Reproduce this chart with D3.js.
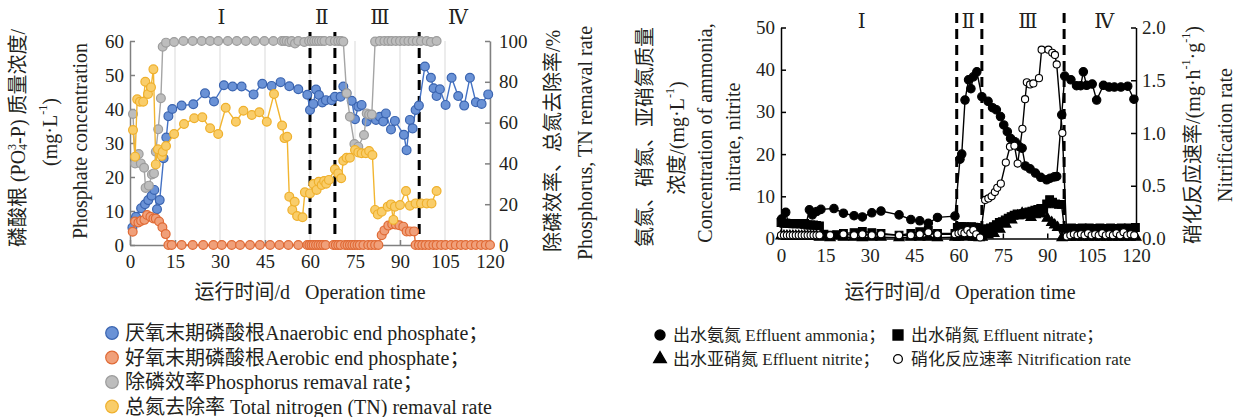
<!DOCTYPE html>
<html>
<head>
<meta charset="utf-8">
<script src="https://cdn.jsdelivr.net/npm/d3@7"></script>
<style>
body { margin: 0; background: #fff; }
svg text { font-family: "Liberation Serif", "Noto Sans CJK SC", serif; font-size: 20px; fill: #231f20; }
svg .tick text { font-size: 19px; }
svg .legR text { font-size: 17px; }
</style>
</head>
<body>
<svg id="chart" width="1236" height="417"></svg>
<script>
// ---- left chart: phosphate ----
const xTicks = [0, 15, 30, 45, 60, 75, 90, 105, 120];
const phosTicks = [0, 10, 20, 30, 40, 50, 60];
const rateTicks = [0, 20, 40, 60, 80, 100];

const blueDays = [0.8,2,3.7,5,6.1,7.2,8.1,9,9.9,11.2,12.1,12.8,14.1,17.2,21.1,25,28,31.3,34.2,37.2,
    41.2,44.1,47.2,50.2,53.1,56.1,59.1,60,61.1,62,63,64.1,65.3,67.2,68.3,70.2,71.1,72.2,73.9,75,
    76.1,77.2,78.9,80.6,82,83.3,84.4,85.3,87,88.3,91.3,92.2,93.3,94.2,95.2,96.3,98.3,100.3,101.2,102.2,
    103.3,105.2,107.2,109.4,111.4,113.3,115.3,117.2,119.4];
const blueVals = [5.1,8.3,10.8,12,13.2,14.5,16.2,10.5,13.2,25.5,31.6,37.9,40,41,41.4,44.6,42.2,47,46.6,46.6,
    44.3,47.4,46.8,47.9,46.7,45.8,44.2,39.7,41.5,45.7,44.1,41.9,42.6,42.6,43.6,43.6,46.6,44.6,42.4,37,
    40.7,41.2,36.3,37.7,36.8,37.7,36.3,38.7,34,36.5,32.4,27.9,36.8,34.3,39.7,41,52.5,49.2,46.1,43.8,
    45.8,41.2,49.2,43.8,41,49.2,42,41.5,44.3];

const redDays = [0.9,1.7,2.8,3.7,4.8,5.7,6.8,7.8,8.6,9.7,10.8,11.9,12.8,13.9,17.2,20.9,24.4,27.8,30.6,33.9,
    36.7,40,43.3,46.7,49.8,52.8,56.1,59.1,59.8,60.5,61.2,62,62.8,63.6,64.4,65.2,67.8,68.6,69.4,70.2,
    71.7,72.5,73.3,74.1,74.9,75.8,76.6,77.8,79.4,80.5,81.7,82.8,83.9,84.8,86.1,87.4,88.6,89.8,91.1,92.2,
    93.3,94.7,95.2,96.3,97.4,98.5,99.7,101.1,102.2,103.7,105.2,107,108.6,110.3,111.9,113.7,115.3,117,118.6,120];
const redVals = [3.9,6.9,6.6,7.1,7.4,8.8,8.3,7.8,7.8,6.9,5.2,3.2,0,0,0,0,0,0,0,0,
    0,0,0,0,0,0,0,0,0,0,0,0,0,0,0,0,0,0,0,0,
    0,0,0,0,0,0,0,0,0,0,0,0,2.9,4.3,5.7,6.1,6,5.8,5.4,4,
    4,4,0,0,0,0,0,0,0,0,0,0,0,0,0,0,0,0,0,0];

const grayDays = [1,1.7,2.9,3.6,4.7,5.2,6.3,7.3,8,8.6,9.4,10.3,10.9,12,14.7,17.8,20.9,23.9,26.7,29.4,
    32.6,35.6,38.6,41.7,44.8,47.8,50.6,51.4,52.2,53.1,53.9,55,56.1,58.1,59.7,60.6,61.4,62.2,63,63.9,
    64.8,66.7,68.3,69.4,70.3,71.1,72.2,73.3,74.8,76.1,78,78.9,79.7,80.6,81.7,83.3,84.8,86.1,87.2,88.6,
    90,91.4,92.8,94.2,95.6,97,98.9,100.3,102.2];
const grayVals = [64.2,40,44.6,40,37.9,28,29.1,34.6,35.1,45.7,56.7,71.9,97.2,99.2,99.5,100,100,100,100,100,
    100,100,100,100,100,100,100,100,100,99.5,100,98.8,100,99.5,100,100,100,100,100,100,
    100,100,100,100,100,99.7,74.4,62.9,49.5,48.2,53.9,64.5,64,64,99.7,100,100,100,100,100,
    100,100,100,100,100,100,100,99.5,100];

const yellowDays = [1,1.7,2.4,3.3,4.4,5.1,6,7,7.8,8.6,9.3,10.6,10.9,12,14.7,18,21.4,24.1,26.7,29.4,
    31.9,35.3,37.8,40.6,43.1,45.6,48,50.7,51.5,52.4,53.1,54.1,54.9,55.7,57.5,58.3,60,61.1,62.2,62.9,
    63.9,64.7,65.4,66.3,68.3,69.4,70.4,71.1,72.2,73.3,75,76.1,77.2,78.6,79.7,80.8,81.7,82.6,83.9,85.9,
    87,87.8,88.3,90,92,93.3,95.2,97,98.9,100.5,102.2];
const yellowVals = [56.4,43.3,71.4,70.2,70.2,80,74,77.3,86.1,39.5,46.9,43.6,45.7,48.5,54.4,59.3,62.1,62.6,57.2,54.4,
    67.3,60.4,65.8,63.7,65.1,60.4,74,58.6,52.4,53.1,23.7,17.2,21.2,14.2,13.6,25.8,25.3,29.9,27,31,
    29.4,31.4,30,31.9,37.1,35.1,32.7,41.3,42.8,42.8,46.6,45.4,45,45,46.1,44.1,17.2,15,16.3,18.8,
    19.9,12.3,18.8,19.6,26.5,19.3,20.4,20.4,20.4,20.4,26.5];

// stage borders and labels (days)
const stageLinesL = [60, 68.3, 96.4];
const stageLinesR = [59.4, 67.9, 95.7];
const stageNames = ["Ⅰ", "Ⅱ", "Ⅲ", "Ⅳ"];
const stagePosL = [30.5, 63.9, 83.3, 109.3];
const stagePosR = [27.3, 63.3, 83.5, 109.3];

// ---- right chart: nitrogen ----
const nTicks = [0, 10, 20, 30, 40, 50];
const nrTicks = [0, 0.5, 1, 1.5, 2];

const ammDays = [0.2,1.6,2.5,4,5.5,7,8.5,9.6,10.6,12.1,13.5,17.9,21.1,24.7,27.5,30.7,33.8,39.9,43.9,46.9,
    49.8,52.9,58.8,60.5,61.1,62.2,63.4,64.2,65,66.2,67.9,70,71.5,72.8,74.2,75.3,76.5,77.6,79.2,80.5,
    81.5,82.6,84.2,86,87.8,89.8,91,92.4,93.2,94.9,95.9,98,99.9,101.3,102.2,103.3,105.2,106.7,109,110.9,
    112.7,114.9,117.2,119.3];
const ammVals = [4.6,6.2,3.6,3.5,3.5,3.4,3.5,6.8,5.6,6.4,6.9,7.1,6,5.4,5.1,6.1,6.5,5.6,4.5,4.2,
    3.6,5,5.3,18.8,20,32.8,37.6,35.5,38.3,39.5,33.6,32.5,31,30.5,28.9,26.9,25.3,23.7,22.9,21.8,
    21.4,17.2,16.5,15.5,14.5,13.9,14.3,14.6,14.7,29.3,38.5,37.6,36.2,36.2,39.5,36.3,36.6,32.8,36.3,35.9,
    35.9,35.9,36.1,33];

const nitDays = [0,1,2,3,4,5,6,7,8,9,10,11,12,13,14.5,16.6,18.8,21.1,24.7,27.5,
    30.7,33.8,39.9,43.9,46.9,49.8,52.9,58.8,59.6,60.4,61.2,62,62.8,63.6,64.4,65.2,66,66.8,67.8,68.8,
    69.8,70.8,71.8,72.8,73.8,74.8,75.8,76.8,77.8,78.8,79.8,80.8,81.8,82.8,83.8,84.8,85.8,86.8,87.8,88.8,
    89.8,90.8,91.8,92.8,93.8,94.8,95.8,97,98.2,99.4,100.6,101.8,103,104.2,105.4,106.6,107.8,109,110.2,111.4,
    112.6,113.8,115,116.2,117.4,118.6,119.8];
const nitVals = [3.8,3.6,3.6,3.6,3.5,3.6,3.5,3.5,3.6,3.2,3.2,3.2,3.1,3,1,0.8,0.9,1.2,1.4,1.7,
    1.4,1.2,0.8,1.2,1.6,1.9,1.2,1.2,2.6,2.8,2.8,2.8,2.7,2.6,2.8,2.7,2.6,2.4,1.9,2,
    2.3,2.5,2.8,3.3,3.8,4,4.4,4.8,5.2,5.5,5.8,5.6,5.9,6.1,6.3,6.5,6.7,6.9,7.1,6.8,
    8.2,9.2,8.6,8.2,8.1,8.1,2.4,2.4,2.5,2.4,2.3,2.5,2.4,2.5,2.3,2.4,2.5,2.4,2.4,2.5,
    2.3,2.4,2.5,2.4,2.5,2.4,2.6];

const niDays = [0,1,2,3,4,5,6,7,8,9,10,11,12,13,16.6,21.1,24.7,27.5,30.7,33.8,
    39.9,43.9,46.9,49.8,52.9,58.8,60,61,62,63,64,65,66,67,68,70,72,74,76,78,
    80,81.5,83,84.5,86,88,90,91.5,92.5,93.5,95,96.5,98,100,102,104,106,108,110,112,
    114,116,118,120];
const niVals = [0.6,0.6,0.6,0.6,0.6,0.6,0.6,0.6,0.6,0.6,0.6,0.6,0.6,0.3,0.2,0.3,0.3,0.2,0.3,0.3,
    0.2,0.3,0.3,0.3,0.2,0.3,0.3,0.4,0.4,0.4,0.4,0.3,0.3,0.2,0.3,0.8,1.2,2.2,3.4,4.4,
    5.4,6,5.5,5,5.6,5.8,4.8,3.8,3.2,2.6,0.2,0.3,0.3,0.3,0.3,0.3,0.3,0.3,0.3,0.3,
    0.3,0.3,0.3,0.3];

const nrDays = [0,1,2,3,4,5,6,7,8,9,10,11,12,13,16.6,21.1,24.7,27.5,30.7,33.8,
    39.9,43.9,46.9,49.8,52.9,58.8,60,61,62,63,64,65,66,67.3,69,70.1,71.2,72.3,73.1,74.3,
    76,77.4,78.9,80,81.6,82.5,83.1,84.2,85.3,87.2,88.1,90.4,91.7,92.6,93.2,95.1,96.6,97.8,99,100.2,
    101.4,102.6,103.8,105,106.2,107.4,108.6,109.8,111,112.2,113.4,114.6,115.8,117,118.2,119.4];
const nrVals = [0.03,0.03,0.03,0.03,0.03,0.03,0.03,0.03,0.03,0.03,0.03,0.03,0.03,0.03,0.03,0.04,0.03,0.04,0.03,0.04,
    0.03,0.03,0.04,0.06,0.04,0.04,0.05,0.06,0.05,0.08,0.05,0.08,0.04,0.01,0.365,0.38,0.40,0.44,0.48,0.52,
    0.72,0.87,0.88,0.71,1.04,1.32,1.48,1.46,1.47,1.52,1.79,1.79,1.76,1.74,1.65,1.0,0.02,0.03,0.04,0.03,
    0.04,0.03,0.05,0.03,0.04,0.03,0.05,0.03,0.04,0.03,0.05,0.03,0.06,0.03,0.04,0.03];

const svg = d3.select("#chart");

// scales
const xL = d3.scaleLinear().domain([0, 120]).range([130, 490]);
const yL = d3.scaleLinear().domain([0, 60]).range([245, 41]);
const yL2 = d3.scaleLinear().domain([0, 100]).range([245, 41]);
const xR = d3.scaleLinear().domain([0, 120]).range([781, 1136]);
const yR = d3.scaleLinear().domain([0, 50]).range([238.5, 27.5]);
const yR2 = d3.scaleLinear().domain([0, 2]).range([238.5, 27.5]);

// gridlines (left chart only)
svg.append("g").selectAll("line")
    .data(xTicks.slice(1))
    .enter().append("line")
    .attr("x1", d => xL(d)).attr("x2", d => xL(d))
    .attr("y1", yL(0)).attr("y2", yL(60))
    .attr("stroke", "#d9d9d9").attr("stroke-width", 1);

function styleAxis(g, color) {
    g.selectAll("path, line").attr("stroke", color).attr("stroke-width", 1.5);
    g.selectAll("text").attr("fill", "#231f20");
}

// left chart axes
svg.append("g").attr("transform", "translate(0," + yL(0) + ")")
    .call(d3.axisBottom(xL).tickValues(xTicks).tickSize(-5).tickSizeOuter(0).tickPadding(10))
    .call(g => styleAxis(g, "#808080"));
svg.append("g").attr("transform", "translate(" + xL(0) + ",0)")
    .call(d3.axisLeft(yL).tickValues(phosTicks).tickSize(-5).tickSizeOuter(0).tickPadding(6))
    .call(g => styleAxis(g, "#808080"));
svg.append("g").attr("transform", "translate(" + xL(120) + ",0)")
    .call(d3.axisRight(yL2).tickValues(rateTicks).tickSize(-5).tickSizeOuter(0).tickPadding(9))
    .call(g => styleAxis(g, "#808080"));

// right chart axes
svg.append("g").attr("transform", "translate(0," + yR(0) + ")")
    .call(d3.axisBottom(xR).tickValues(xTicks).tickSize(-5).tickSizeOuter(0).tickPadding(10))
    .call(g => styleAxis(g, "#000"));
svg.append("g").attr("transform", "translate(" + xR(0) + ",0)")
    .call(d3.axisLeft(yR).tickValues(nTicks).tickSize(-5).tickSizeOuter(0).tickPadding(6))
    .call(g => styleAxis(g, "#000"));
svg.append("g").attr("transform", "translate(" + xR(120) + ",0)")
    .call(d3.axisRight(yR2).tickValues(nrTicks).tickSize(-5).tickSizeOuter(0).tickPadding(6)
        .tickFormat(d3.format(".1f")))
    .call(g => styleAxis(g, "#000"));

// stage dashed lines
svg.append("g").selectAll("line")
    .data(stageLinesL)
    .enter().append("line")
    .attr("x1", d => xL(d)).attr("x2", d => xL(d))
    .attr("y1", 32).attr("y2", yL(0))
    .attr("stroke", "#000").attr("stroke-width", 3).attr("stroke-dasharray", "10,6");
svg.append("g").selectAll("line")
    .data(stageLinesR)
    .enter().append("line")
    .attr("x1", d => xR(d)).attr("x2", d => xR(d))
    .attr("y1", 13).attr("y2", yR(0))
    .attr("stroke", "#000").attr("stroke-width", 3).attr("stroke-dasharray", "10,6");

svg.append("g").selectAll("text")
    .data(stageNames)
    .enter().append("text")
    .attr("x", (d, i) => xL(stagePosL[i])).attr("y", 24)
    .attr("text-anchor", "middle")
    .style("font-family", "'Liberation Serif','DejaVu Serif',serif")
    .text(d => d);
svg.append("g").selectAll("text")
    .data(stageNames)
    .enter().append("text")
    .attr("x", (d, i) => xR(stagePosR[i])).attr("y", 28)
    .attr("text-anchor", "middle")
    .style("font-family", "'Liberation Serif','DejaVu Serif',serif")
    .text(d => d);

// left chart series
function phosSeries(days, vals, y, line, fill, stroke) {
    const pts = d3.zip(days, vals);
    const g = svg.append("g");
    g.append("path")
        .datum(pts)
        .attr("fill", "none").attr("stroke", line).attr("stroke-width", 1.4)
        .attr("d", d3.line().x(d => xL(d[0])).y(d => y(d[1])));
    g.selectAll("circle")
        .data(pts)
        .enter().append("circle")
        .attr("cx", d => xL(d[0])).attr("cy", d => y(d[1]))
        .attr("r", 4.4)
        .attr("fill", fill).attr("stroke", stroke).attr("stroke-width", 1.2);
}

phosSeries(blueDays, blueVals, yL, "#4472c4", "#6a92d6", "#3a64b0");
phosSeries(redDays, redVals, yL, "#e46c35", "#f0a07a", "#e06a35");
phosSeries(grayDays, grayVals, yL2, "#a5a5a5", "#bdbdbd", "#9c9c9c");
phosSeries(yellowDays, yellowVals, yL2, "#f2b530", "#f9cd6a", "#efb02c");

// right chart series
function nSeries(days, vals, y, shape, size, fill) {
    const pts = d3.zip(days, vals);
    const g = svg.append("g");
    g.append("path")
        .datum(pts)
        .attr("fill", "none").attr("stroke", "#000").attr("stroke-width", 1.4)
        .attr("d", d3.line().x(d => xR(d[0])).y(d => y(d[1])));
    g.selectAll("path.mark")
        .data(pts)
        .enter().append("path")
        .attr("class", "mark")
        .attr("transform", d => "translate(" + xR(d[0]) + "," + y(d[1]) + ")")
        .attr("d", d3.symbol().type(shape).size(size))
        .attr("fill", fill).attr("stroke", "#000").attr("stroke-width", 1.1);
}

nSeries(nitDays, nitVals, yR, d3.symbolSquare, 60, "#000");
nSeries(niDays, niVals, yR, d3.symbolTriangle, 45, "#000");
nSeries(ammDays, ammVals, yR, d3.symbolCircle, 56, "#000");
nSeries(nrDays, nrVals, yR2, d3.symbolCircle, 40, "#fff");

// axis titles
function vtext(x, y, parts) {
    const t = svg.append("text")
        .attr("transform", "translate(" + x + "," + y + ") rotate(-90)")
        .attr("text-anchor", "middle")
        .attr("dominant-baseline", "central");
    parts.forEach(p => {
        const s = t.append("tspan").text(p[0]);
        if (p[1]) s.attr("dy", p[1]);
        if (p[2]) s.style("font-size", p[2] + "px");
        if (p[3]) s.attr("dx", p[3]);
    });
}

vtext(18, 138, [["磷酸根 (PO"], ["4", 5, 12], ["3", -11, 12, -6], ["-P) 质量浓度/", 6]]);
vtext(50, 132, [["(mg·L"], ["-1", -7, 12], [")", 7]]);
vtext(80, 141, [["Phosphate concentration"]]);
vtext(553, 141, [["除磷效率、总氮去除率/%"]]);
vtext(585, 143, [["Phosphorus, TN remaval rate"]]);

vtext(645, 137, [["氨氮、硝氮、亚硝氮质量"]]);
vtext(677, 138, [["浓度/(mg·L"], ["-1", -7, 12], [")", 7]]);
vtext(705, 133, [["Concentration of ammonia,"]]);
vtext(733, 137, [["nitrate, nitrite"]]);
vtext(1193, 135, [["硝化反应速率/(mg·h"], ["-1", -7, 12], ["·g", 7], ["-1", -7, 12], [")", 7]]);
vtext(1225, 135, [["Nitrification rate"]]);

svg.append("text").attr("x", 310).attr("y", 299).attr("text-anchor", "middle")
    .attr("xml:space", "preserve").text("运行时间/d   Operation time");
svg.append("text").attr("x", 960).attr("y", 299).attr("text-anchor", "middle")
    .attr("xml:space", "preserve").text("运行时间/d   Operation time");

// legends
const legendL = [
    ["厌氧末期磷酸根Anaerobic end phosphate；", "#6a92d6", "#3a64b0"],
    ["好氧末期磷酸根Aerobic end phosphate；", "#f0a07a", "#e06a35"],
    ["除磷效率Phosphorus remaval rate；", "#bdbdbd", "#9c9c9c"],
    ["总氮去除率 Total nitrogen (TN) remaval rate", "#f9cd6a", "#efb02c"]
];
const lg = svg.append("g").selectAll("g")
    .data(legendL)
    .enter().append("g")
    .attr("transform", (d, i) => "translate(112," + (333 + i * 24.5) + ")");
lg.append("circle").attr("r", 6.3)
    .attr("fill", d => d[1]).attr("stroke", d => d[2]).attr("stroke-width", 1.2);
lg.append("text").attr("x", 13).attr("y", 7).text(d => d[0]);

const legendR = [
    ["出水氨氮 Effluent ammonia；", d3.symbolCircle, 80, "#000", 660, 335],
    ["出水硝氮 Effluent nitrate；", d3.symbolSquare, 100, "#000", 898, 335],
    ["出水亚硝氮 Effluent nitrite；", d3.symbolTriangle, 70, "#000", 660, 359],
    ["硝化反应速率 Nitrification rate", d3.symbolCircle, 60, "#fff", 898, 359]
];
const rg = svg.append("g").attr("class", "legR").selectAll("g")
    .data(legendR)
    .enter().append("g")
    .attr("transform", d => "translate(" + d[4] + "," + d[5] + ")");
rg.append("path").attr("d", d => d3.symbol().type(d[1]).size(d[2])())
    .attr("fill", d => d[3]).attr("stroke", "#000").attr("stroke-width", 1.3);
rg.append("text").attr("x", 13).attr("y", 6).text(d => d[0]);
</script>
</body>
</html>
